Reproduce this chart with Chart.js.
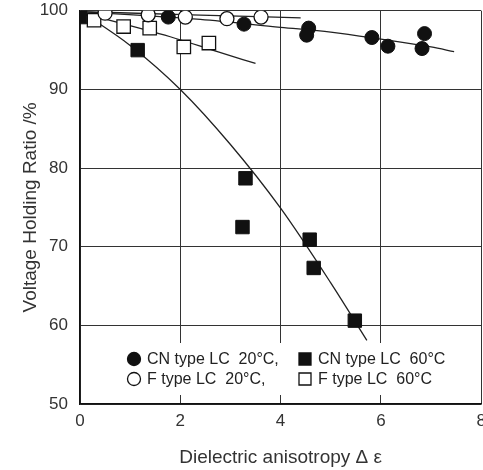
<!DOCTYPE html>
<html>
<head>
<meta charset="utf-8">
<script src="https://cdn.jsdelivr.net/npm/chart.js@4.4.1/dist/chart.umd.min.js"></script>
<style>
html, body { margin: 0; padding: 0; background: #fff; overflow: hidden; }
#wrap { width: 483px; height: 470px; overflow: hidden; }
#wrap canvas { display: block; }
</style>
</head>
<body>
<div id="wrap"><canvas id="vhr"></canvas></div>
<script>
const cn20X = [1.76, 3.27, 4.56, 4.52, 5.82, 6.14, 6.87, 6.82];
const cn20Y = [99.2, 98.3, 97.8, 96.9, 96.6, 95.5, 97.1, 95.2];
const cn60X = [0, 1.15, 3.3, 3.24, 4.58, 4.66, 5.48];
const cn60Y = [99.2, 95.0, 78.7, 72.5, 70.9, 67.3, 60.6];
const f20X = [0.5, 1.36, 2.1, 2.93, 3.61];
const f20Y = [99.7, 99.5, 99.2, 99.0, 99.2];
const f60X = [0.28, 0.87, 1.39, 2.07, 2.57];
const f60Y = [98.8, 98.0, 97.8, 95.4, 95.9];

// trend lines drawn in the figure
const cn20FitX = [0, 2.4, 4, 5, 6, 7, 7.46];
const cn20FitY = [99.9, 98.9, 97.9, 97.3, 96.4, 95.4, 94.8];
const cn60FitX = [0, 1, 2, 3, 4, 5, 5.72];
const cn60FitY = [100, 95.6, 90, 83, 74.9, 65.4, 58.1];
const f20FitX = [0, 2.4, 4.4];
const f20FitY = [99.9, 99.45, 99.1];
const f60FitX = [0, 1.8, 2.74, 3.5];
const f60FitY = [99.8, 96.7, 94.8, 93.3];

const xTicks = [0, 2, 4, 6, 8];
const yTicks = [50, 60, 70, 80, 90, 100];

const legendLabels = ['CN type LC  20\u00b0C,', 'CN type LC  60\u00b0C', 'F type LC  20\u00b0C,', 'F type LC  60\u00b0C'];

const FONT = '"Liberation Sans", Arial, sans-serif';

function pts(xs, ys) {
    return xs.map((x, i) => ({ x: x, y: ys[i] }));
}

function markerSet(label, xs, ys, style, filled) {
    const rect = style === 'rect';
    return {
        label: label,
        data: pts(xs, ys),
        pointStyle: style,
        pointRadius: rect ? 9.5 : 7,
        pointBackgroundColor: filled ? '#111' : '#fff',
        pointBorderColor: '#111',
        pointBorderWidth: filled ? 1 : 1.3,
        showLine: false,
        order: 0
    };
}

function fitLine(xs, ys) {
    return {
        label: '',
        data: pts(xs, ys),
        showLine: true,
        borderColor: '#222',
        borderWidth: 1.3,
        pointRadius: 0,
        tension: 0.35,
        cubicInterpolationMode: 'monotone',
        fill: false,
        order: 1
    };
}

const markers = [
    markerSet(legendLabels[0], cn20X, cn20Y, 'circle', true),
    markerSet(legendLabels[1], cn60X, cn60Y, 'rect', true),
    markerSet(legendLabels[2], f20X, f20Y, 'circle', false),
    markerSet(legendLabels[3], f60X, f60Y, 'rect', false)
];

// legend sits inside the plot on a white box
const boxLegend = {
    id: 'boxLegend',
    beforeDatasetsDraw(chart) {
        const ctx = chart.ctx;
        const a = chart.chartArea;
        const left = a.left + 42;
        const top = a.bottom - 61;
        ctx.save();
        ctx.fillStyle = '#fff';
        ctx.fillRect(left, top, 335, 52);
        ctx.font = '16px ' + FONT;
        ctx.textBaseline = 'middle';
        markers.forEach((ds, i) => {
            const col = i % 2, row = Math.floor(i / 2);
            const mx = left + 12 + col * 171;
            const my = top + 16 + row * 20;
            ctx.beginPath();
            if (ds.pointStyle === 'rect') {
                ctx.rect(mx - 6, my - 6, 12, 12);
            } else {
                ctx.arc(mx, my, 6.5, 0, Math.PI * 2);
            }
            ctx.fillStyle = ds.pointBackgroundColor;
            ctx.fill();
            ctx.lineWidth = 1.3;
            ctx.strokeStyle = '#111';
            ctx.stroke();
            ctx.fillStyle = '#222';
            ctx.fillText(ds.label, mx + 13, my + 1);
        });
        ctx.restore();
    }
};

const canvas = document.getElementById('vhr');
canvas.width = 492;
canvas.height = 470;
canvas.style.width = '492px';
canvas.style.height = '470px';

new Chart(canvas, {
    type: 'scatter',
    data: {
        datasets: markers.concat([
            fitLine(cn20FitX, cn20FitY),
            fitLine(cn60FitX, cn60FitY),
            fitLine(f20FitX, f20FitY),
            fitLine(f60FitX, f60FitY)
        ])
    },
    options: {
        responsive: false,
        animation: false,
        layout: { padding: { top: 9, right: 0, bottom: 0, left: 0 } },
        plugins: {
            legend: { display: false },
            tooltip: { enabled: false }
        },
        scales: {
            x: {
                type: 'linear',
                min: 0,
                max: 8,
                afterBuildTicks: (s) => { s.ticks = xTicks.map(v => ({ value: v })); },
                afterFit: (s) => { s.height = 66; s.paddingLeft = 0; s.paddingRight = 0; },
                grid: { color: '#333', lineWidth: 1, drawTicks: false },
                border: { color: '#111', width: 1.5 },
                ticks: { color: '#333', font: { family: FONT, size: 17 }, padding: 7 },
                title: {
                    display: true,
                    text: 'Dielectric anisotropy \u0394 \u03b5',
                    color: '#333',
                    font: { family: FONT, size: 19 },
                    padding: { top: 0, bottom: 1 }
                }
            },
            y: {
                type: 'linear',
                min: 50,
                max: 100,
                afterBuildTicks: (s) => { s.ticks = yTicks.map(v => ({ value: v })); },
                afterFit: (s) => { s.width = 80; s.paddingTop = 0; s.paddingBottom = 0; },
                grid: { color: '#333', lineWidth: 1, drawTicks: false },
                border: { color: '#111', width: 1.5 },
                ticks: { color: '#333', font: { family: FONT, size: 17 }, padding: 12 },
                title: {
                    display: true,
                    text: 'Voltage Holding Ratio /%',
                    color: '#333',
                    font: { family: FONT, size: 19 },
                    padding: { top: 19, bottom: 0 }
                }
            }
        }
    },
    plugins: [boxLegend]
});
</script>
</body>
</html>
